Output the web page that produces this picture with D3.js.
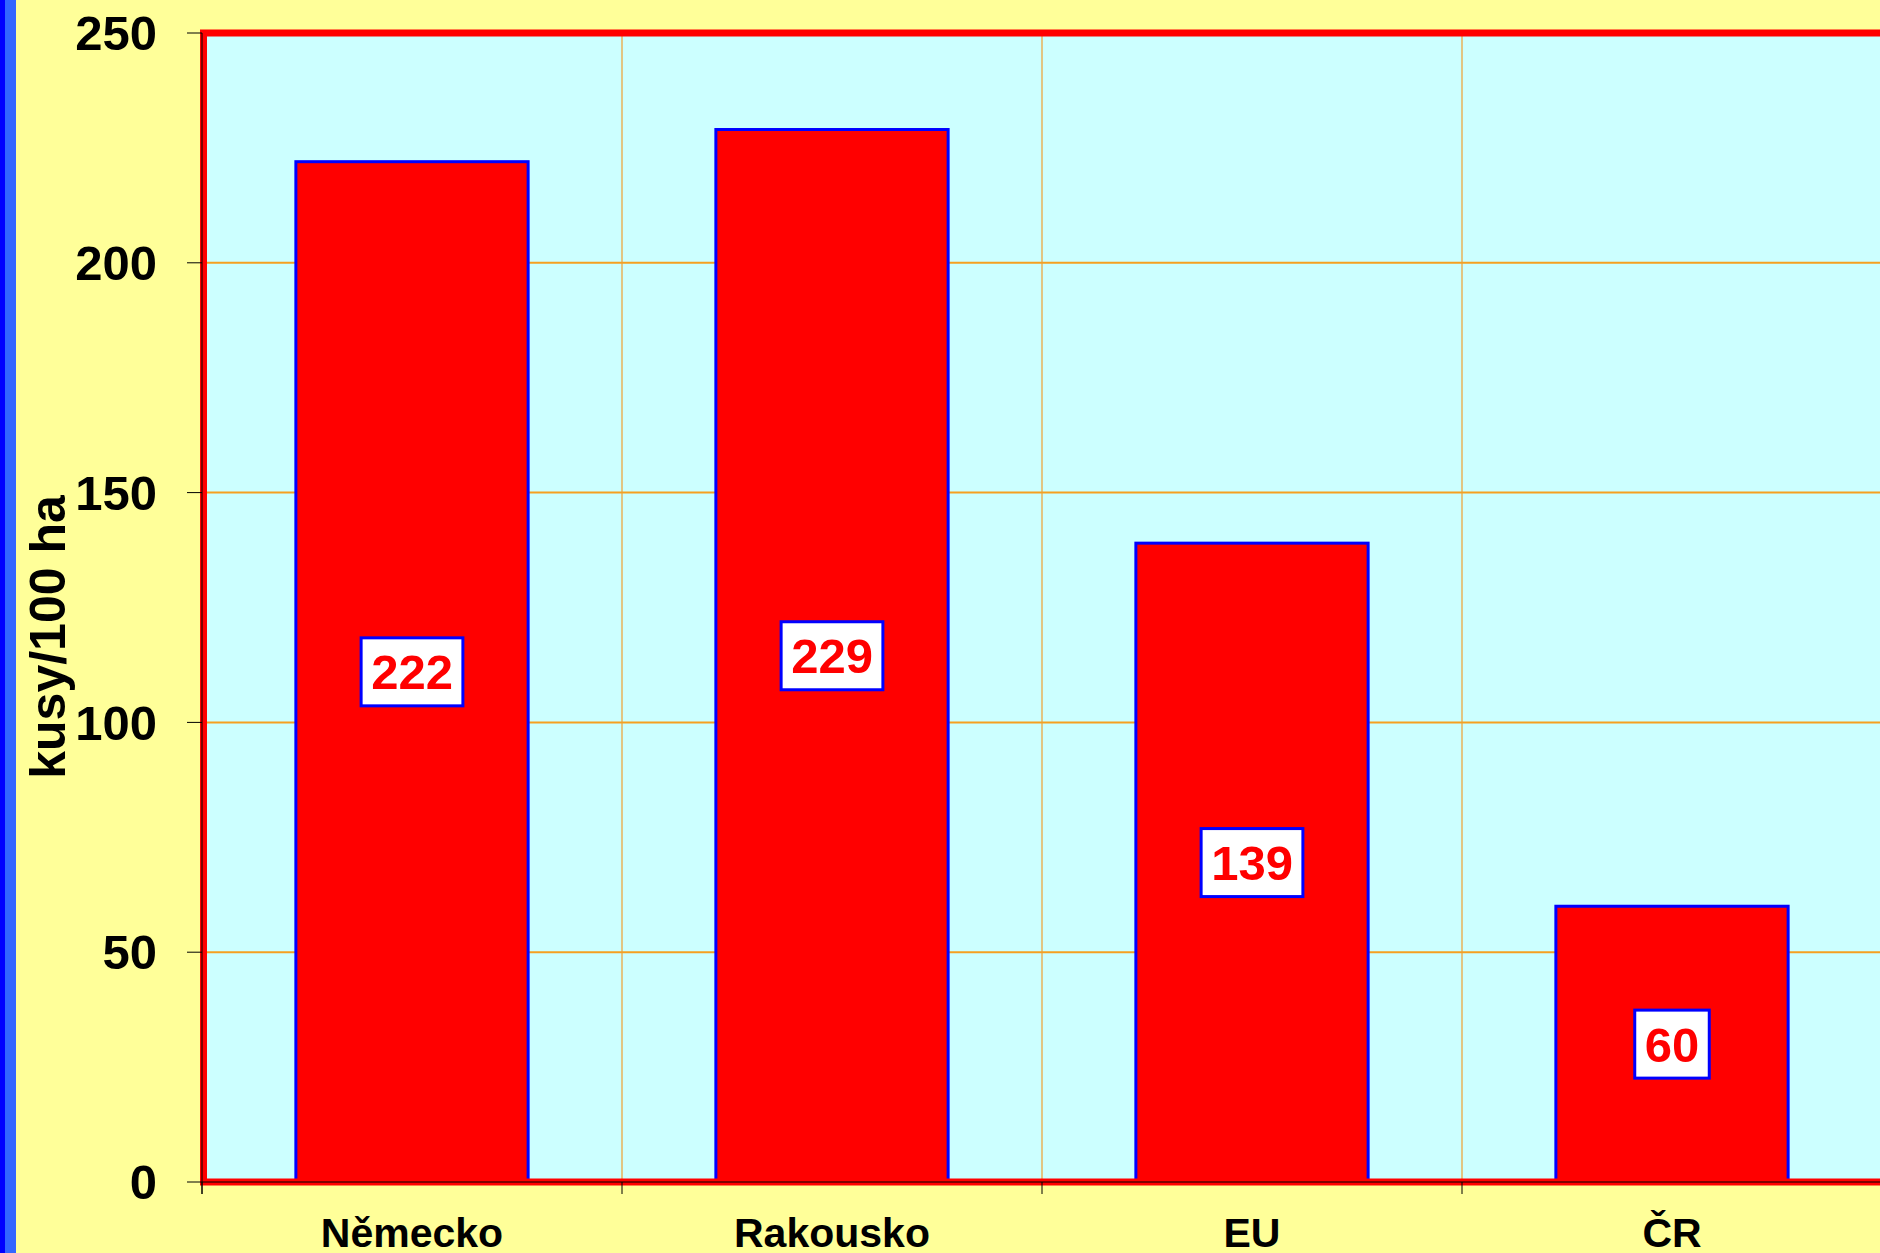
<!DOCTYPE html>
<html>
<head>
<meta charset="utf-8">
<script src="https://cdn.jsdelivr.net/npm/d3@7"></script>
<style>
  html, body { margin: 0; padding: 0; background: #ffff99; overflow: hidden; }
  text { font-family: Arial, 'Liberation Sans', sans-serif; font-weight: bold; }
</style>
</head>
<body>
<div class="canvas"></div>
<script>
// data
const categories = ['Německo', 'Rakousko', 'EU', 'ČR'];
const values = [222, 229, 139, 60];
const yTicks = [0, 50, 100, 150, 200, 250];
const yTitle = 'kusy/100 ha';

const W = 1880, H = 1253;
const svg = d3.select('.canvas')
  .append('svg')
    .attr('width', W)
    .attr('height', H);

// background + left stripe
svg.append('rect').attr('width', W).attr('height', H).attr('fill', '#ffff99');
svg.append('rect').attr('x', 0).attr('y', 0).attr('width', 16).attr('height', H).attr('fill', '#3366ff');
svg.append('rect').attr('x', 0).attr('y', 0).attr('width', 5).attr('height', H).attr('fill', '#0000ff');

// plot area
const plot = {left: 202, right: 1882, top: 33, bottom: 1182};

const x = d3.scaleBand()
  .domain(categories)
  .range([plot.left, plot.right])
  .padding(0);

const y = d3.scaleLinear()
  .domain([0, 250])
  .range([plot.bottom, plot.top]);

svg.append('rect')
  .attr('x', plot.left)
  .attr('y', plot.top)
  .attr('width', plot.right - plot.left)
  .attr('height', plot.bottom - plot.top)
  .attr('fill', '#ccffff');

// gridlines
svg.append('g')
  .selectAll('line')
  .data(yTicks.filter(d => d > 0 && d < 250))
  .enter().append('line')
    .attr('x1', plot.left).attr('x2', plot.right)
    .attr('y1', d => y(d)).attr('y2', d => y(d))
    .attr('stroke', '#f5a020')
    .attr('stroke-width', 2);

svg.append('g')
  .selectAll('line')
  .data(categories.slice(1))
  .enter().append('line')
    .attr('x1', d => x(d)).attr('x2', d => x(d))
    .attr('y1', plot.top).attr('y2', plot.bottom)
    .attr('stroke', '#f0a030')
    .attr('stroke-width', 1.2);

// bars
const barW = x.bandwidth() * 0.553;
svg.append('g')
  .selectAll('rect')
  .data(values)
  .enter().append('rect')
    .attr('x', (d, i) => x(categories[i]) + (x.bandwidth() - barW) / 2)
    .attr('y', d => y(d))
    .attr('width', barW)
    .attr('height', d => y(0) - y(d))
    .attr('fill', '#ff0000')
    .attr('stroke', '#0000ff')
    .attr('stroke-width', 3);

// plot border
svg.append('rect')
  .attr('x', plot.left + 1.5)
  .attr('y', plot.top)
  .attr('width', plot.right - plot.left)
  .attr('height', plot.bottom - plot.top)
  .attr('fill', 'none')
  .attr('stroke', '#ff0000')
  .attr('stroke-width', 7);

// axes lines
svg.append('line')
  .attr('x1', plot.left).attr('x2', plot.left)
  .attr('y1', plot.top).attr('y2', plot.bottom + 12)
  .attr('stroke', '#000').attr('stroke-width', 1);
svg.append('line')
  .attr('x1', plot.left).attr('x2', plot.right)
  .attr('y1', plot.bottom).attr('y2', plot.bottom)
  .attr('stroke', '#000').attr('stroke-width', 1);

// y ticks + labels
const yAx = svg.append('g');
yAx.selectAll('line')
  .data(yTicks)
  .enter().append('line')
    .attr('x1', 187).attr('x2', plot.left)
    .attr('y1', d => y(d)).attr('y2', d => y(d))
    .attr('stroke', '#000');
yAx.selectAll('text')
  .data(yTicks)
  .enter().append('text')
    .attr('x', 157)
    .attr('y', d => y(d))
    .attr('dy', '0.35em')
    .attr('text-anchor', 'end')
    .attr('font-size', 49)
    .attr('fill', '#000')
    .text(d => d);

// x ticks + labels
svg.append('g')
  .selectAll('line')
  .data(categories)
  .enter().append('line')
    .attr('x1', d => x(d)).attr('x2', d => x(d))
    .attr('y1', plot.bottom).attr('y2', plot.bottom + 12)
    .attr('stroke', '#000');
svg.append('g')
  .selectAll('text')
  .data(categories)
  .enter().append('text')
    .attr('x', d => x(d) + x.bandwidth() / 2)
    .attr('y', 1247)
    .attr('text-anchor', 'middle')
    .attr('font-size', 41)
    .attr('fill', '#000')
    .text(d => d);

// y title
svg.append('text')
  .attr('transform', 'translate(65,637) rotate(-90)')
  .attr('text-anchor', 'middle')
  .attr('font-size', 50)
  .attr('fill', '#000')
  .text(yTitle);

// value labels in boxes
const lab = svg.append('g')
  .selectAll('g')
  .data(values)
  .enter().append('g')
    .attr('transform', (d, i) => `translate(${x(categories[i]) + x.bandwidth() / 2},${(y(d) + y(0)) / 2})`);

lab.append('rect')
  .attr('fill', '#ffffff')
  .attr('stroke', '#0000ff')
  .attr('stroke-width', 3);

lab.append('text')
  .attr('text-anchor', 'middle')
  .attr('dy', '0.36em')
  .attr('font-size', 49)
  .attr('fill', '#ff0000')
  .text(d => d);

lab.each(function() {
  const g = d3.select(this);
  const bb = g.select('text').node().getBBox();
  g.select('rect')
    .attr('x', -bb.width / 2 - 10)
    .attr('y', -34)
    .attr('width', bb.width + 20)
    .attr('height', 68);
});
</script>
</body>
</html>
